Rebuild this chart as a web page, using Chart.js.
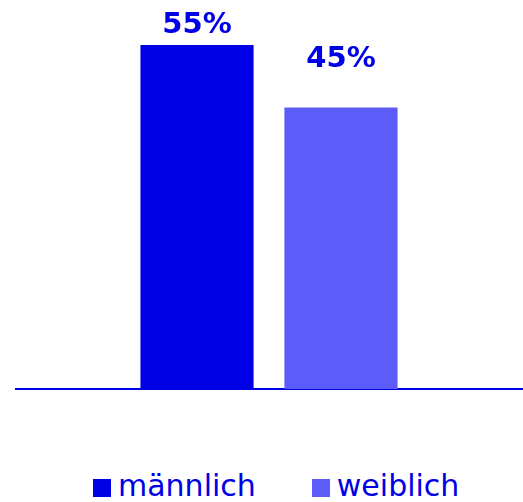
<!DOCTYPE html>
<html>
<head>
<meta charset="utf-8">
<script src="https://cdn.jsdelivr.net/npm/chart.js@4/dist/chart.umd.min.js"></script>
<style>
  html, body { margin: 0; padding: 0; background: #fff; overflow: hidden; }
  #wrap { position: relative; width: 523px; height: 502px; }
  #chart-box { position: absolute; left: 0; top: 0; width: 523px; height: 400px; }
  #legend { position: absolute; left: 93px; top: 468px; display: flex; font-family: "DejaVu Sans", sans-serif; font-size: 30px; line-height: 36px; color: #0000e6; }
  .item { display: flex; align-items: center; margin-right: 56px; }
  .box { width: 18px; height: 18px; margin-right: 7px; margin-top: 4px; }
</style>
</head>
<body>
<div id="wrap">
  <div id="chart-box"><canvas id="myChart"></canvas></div>
  <div id="legend"></div>
</div>
<script>
const seriesNames = ['männlich', 'weiblich'];
const seriesValues = [55, 45];
const seriesColors = ['#0000e6', '#5c5cf9'];
const labelLift = [12, 41];

const blue = '#0000e6';

const valueLabels = {
    id: 'valueLabels',
    afterDatasetsDraw(chart) {
        const ctx = chart.ctx;
        ctx.save();
        ctx.font = 'bold 29px "DejaVu Sans", sans-serif';
        ctx.fillStyle = blue;
        ctx.textAlign = 'center';
        ctx.textBaseline = 'alphabetic';
        chart.data.datasets.forEach(function(ds, i) {
            const bar = chart.getDatasetMeta(i).data[0];
            ctx.fillText(ds.data[0] + '%', bar.x, bar.y - labelLift[i]);
        });
        ctx.restore();
    }
};

const ctx = document.getElementById('myChart');
// eslint-disable-next-line no-unused-vars
const myChart = new Chart(ctx, {
    type: 'bar',
    data: {
        labels: [''],
        datasets: seriesNames.map(function(name, i) {
            return {
                label: name,
                data: [seriesValues[i]],
                backgroundColor: seriesColors[i],
                borderWidth: 0,
                categoryPercentage: 0.569,
                barPercentage: 0.786
            };
        })
    },
    options: {
        responsive: true,
        maintainAspectRatio: false,
        animation: false,
        layout: { padding: { top: 45, left: 16, right: 1, bottom: 3 } },
        plugins: {
            legend: { display: false },
            tooltip: { enabled: false }
        },
        scales: {
            x: {
                grid: { display: false },
                ticks: { display: false },
                border: { display: true, color: blue, width: 2 }
            },
            y: {
                display: false,
                min: 0,
                max: 55
            }
        }
    },
    plugins: [valueLabels]
});

// legend built from the same arrays
const legend = document.getElementById('legend');
seriesNames.forEach(function(name, i) {
    const item = document.createElement('div');
    item.className = 'item';
    const box = document.createElement('span');
    box.className = 'box';
    box.style.background = seriesColors[i];
    const txt = document.createElement('span');
    txt.textContent = name;
    item.appendChild(box);
    item.appendChild(txt);
    legend.appendChild(item);
});
</script>
</body>
</html>
